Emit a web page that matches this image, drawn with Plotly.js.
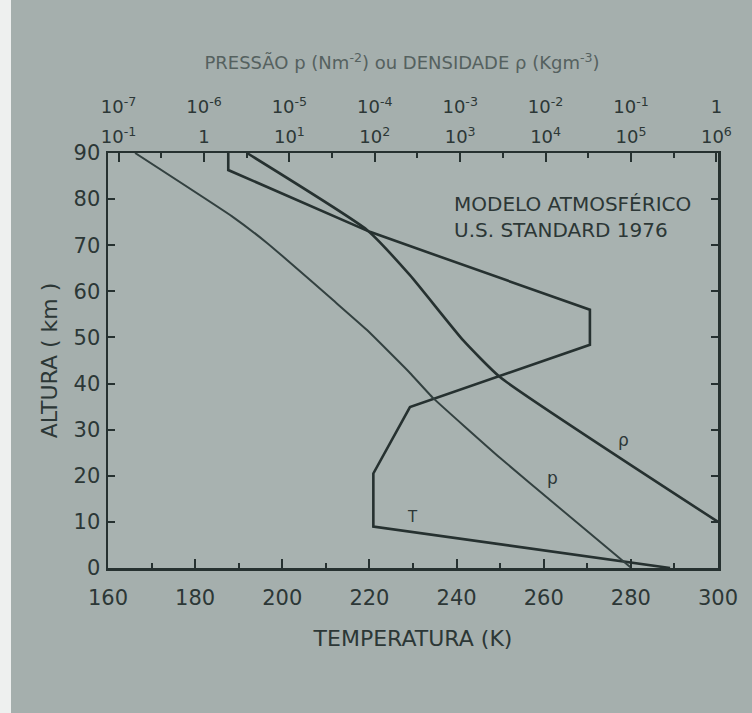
<!DOCTYPE html>
<html>
<head>
<meta charset="utf-8">
<script src="https://cdn.plot.ly/plotly-3.0.1.min.js"></script>
<style>
  html, body { margin: 0; padding: 0; background: #a5afad; }
  #chart { width: 752px; height: 713px; }
</style>
</head>
<body>
<div id="chart"></div>
<script>
// U.S. Standard Atmosphere 1976: temperature, pressure and density against altitude

// Temperature profile (K) and its altitudes (km)
const tempK   = [289, 220.9, 220.9, 229.3, 270.6, 270.6, 220.1, 187.6, 187.6];
const tempAlt = [0, 9, 20.5, 34.9, 48.4, 56.0, 72.9, 86.3, 90];

// Pressure profile (N m^-2) and its altitudes (km)
const pressure    = [1.01e5, 1.46e4, 2920, 480, 258, 81.1, 32.4, 9.38, 5.47, 2.19, 0.156];
const pressureAlt = [0, 13.0, 23.9, 36.9, 42.3, 51.6, 58.1, 66.8, 70.5, 76.1, 90];

// Density profile (kg m^-3) and its altitudes (km)
const density    = [1.045, 2.92e-3, 1.08e-3, 2.58e-4, 8.11e-5, 3.18e-6];
const densityAlt = [10.0, 41.4, 49.4, 63.5, 73.3, 90];

// Axis ticks
const tempTicks      = [160, 180, 200, 220, 240, 260, 280, 300];
const tempMinorTicks = [170, 190, 210, 230, 250, 270, 290];
const altTicks       = [0, 10, 20, 30, 40, 50, 60, 70, 80, 90];
const pressureTicks  = [0.1, 1, 10, 100, 1e3, 1e4, 1e5, 1e6];
const pressureLabels = ['10<sup>-1</sup>', '1', '10<sup>1</sup>', '10<sup>2</sup>', '10<sup>3</sup>',
                        '10<sup>4</sup>', '10<sup>5</sup>', '10<sup>6</sup>'];
const pressureMinor  = [0.316, 3.16, 31.6, 316, 3162, 31623, 316228];
const densityTicks   = [1e-7, 1e-6, 1e-5, 1e-4, 1e-3, 1e-2, 1e-1, 1];
const densityLabels  = ['10<sup>-7</sup>', '10<sup>-6</sup>', '10<sup>-5</sup>', '10<sup>-4</sup>',
                        '10<sup>-3</sup>', '10<sup>-2</sup>', '10<sup>-1</sup>', '1'];

const ink = '#263130';
const textInk = '#2c3736';

const traces = [
  { x: tempK, y: tempAlt, xaxis: 'x', yaxis: 'y', mode: 'lines',
    line: { color: ink, width: 2.6 }, hoverinfo: 'skip' },
  { x: pressure, y: pressureAlt, xaxis: 'x2', yaxis: 'y', mode: 'lines',
    line: { color: '#334140', width: 2.0, shape: 'spline', smoothing: 0.35 }, hoverinfo: 'skip' },
  { x: density, y: densityAlt, xaxis: 'x3', yaxis: 'y', mode: 'lines',
    line: { color: ink, width: 2.6, shape: 'spline', smoothing: 0.45 }, hoverinfo: 'skip' }
];

const frame = { showline: true, linecolor: ink, linewidth: 2.5, showgrid: false, zeroline: false };

const layout = {
  width: 752, height: 713,
  margin: { l: 108, r: 34, t: 153, b: 145, pad: 0 },
  paper_bgcolor: '#a5afad',
  plot_bgcolor: '#a8b2b0',
  font: { family: 'DejaVu Sans, sans-serif', color: textInk, size: 21 },
  showlegend: false,
  title: {
    text: 'PRESSÃO p (Nm<sup>-2</sup>) ou DENSIDADE ρ (Kgm<sup>-3</sup>)',
    x: 402 / 752, xanchor: 'center', y: 1 - 63 / 713, yanchor: 'middle',
    font: { size: 18, color: '#55615f' }
  },
  xaxis: Object.assign({}, frame, {
    range: [160, 300],
    tickmode: 'array', tickvals: tempTicks, ticktext: tempTicks.map(String),
    ticks: 'inside', ticklen: 9, tickwidth: 2, tickcolor: ink,
    minor: { tickmode: 'array', tickvals: tempMinorTicks, ticks: 'inside', ticklen: 5, tickwidth: 2, tickcolor: ink },
    ticklabelstandoff: 9,
    tickfont: { size: 21 },
    title: { text: 'TEMPERATURA (K)', standoff: 22, font: { size: 22 } }
  }),
  xaxis2: Object.assign({}, frame, {
    type: 'log', range: [-1.124, 6.019],
    overlaying: 'x', side: 'top', anchor: 'y',
    tickmode: 'array', tickvals: pressureTicks, ticktext: pressureLabels,
    ticks: 'inside', ticklen: 9, tickwidth: 2, tickcolor: ink,
    minor: { tickmode: 'array', tickvals: pressureMinor, ticks: 'inside', ticklen: 5, tickwidth: 2, tickcolor: ink },
    tickfont: { size: 18 }
  }),
  xaxis3: {
    type: 'log', range: [-7.124, 0.019],
    overlaying: 'x', side: 'top', anchor: 'y',
    showline: false, showgrid: false, zeroline: false, ticks: '',
    tickmode: 'array', tickvals: densityTicks, ticktext: densityLabels,
    ticklabelstandoff: 35,
    tickfont: { size: 18 }
  },
  yaxis: Object.assign({}, frame, {
    range: [0, 90],
    tickmode: 'array', tickvals: altTicks, ticktext: altTicks.map(String),
    ticks: 'inside', ticklen: 7, tickwidth: 2, tickcolor: ink,
    mirror: 'ticks',
    ticklabelstandoff: 1,
    tickfont: { size: 21 },
    title: { text: 'ALTURA ( km )', standoff: 10, font: { size: 22 } }
  }),
  annotations: [
    { text: 'MODELO ATMOSFÉRICO<br>U.S. STANDARD 1976', xref: 'paper', yref: 'paper',
      x: (452 - 108) / 610, y: (568 - 190) / 415, xanchor: 'left', yanchor: 'top', align: 'left',
      showarrow: false, font: { size: 20, color: textInk } },
    { text: 'T', xref: 'paper', yref: 'paper', x: (412 - 108) / 610, y: (568 - 517) / 415,
      xanchor: 'center', yanchor: 'middle', showarrow: false, font: { size: 15, color: textInk } },
    { text: 'ρ', xref: 'paper', yref: 'paper', x: (623 - 108) / 610, y: (568 - 440) / 415,
      xanchor: 'center', yanchor: 'middle', showarrow: false, font: { size: 17, color: textInk } },
    { text: 'p', xref: 'paper', yref: 'paper', x: (552 - 108) / 610, y: (568 - 478) / 415,
      xanchor: 'center', yanchor: 'middle', showarrow: false, font: { size: 17, color: textInk } }
  ],
  shapes: [
    { type: 'rect', xref: 'paper', yref: 'paper', layer: 'below',
      x0: -108 / 610, x1: (11 - 108) / 610, y0: (568 - 713) / 415, y1: 568 / 415,
      fillcolor: '#eef0ef', line: { width: 0 } }
  ]
};

Plotly.newPlot('chart', traces, layout, { displayModeBar: false, staticPlot: true });
</script>
</body>
</html>
